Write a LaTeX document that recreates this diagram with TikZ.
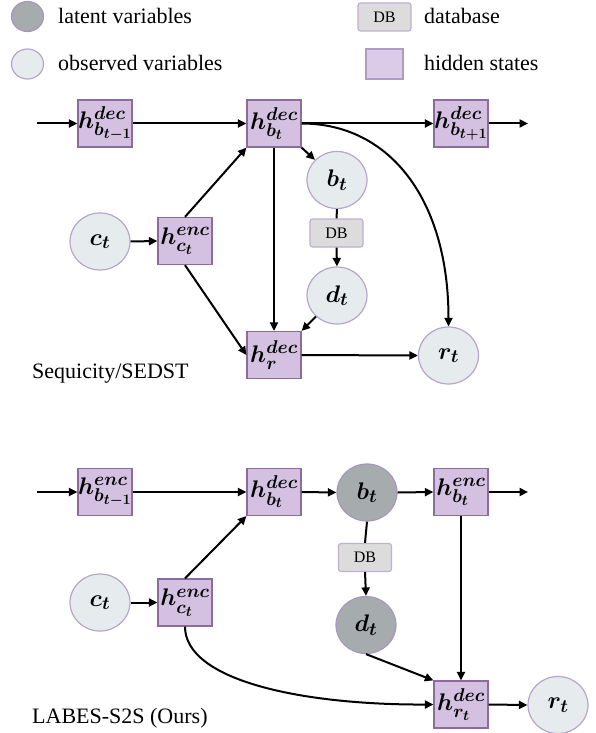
\documentclass[tikz,border=0pt]{standalone}
\usepackage{fix-cm}
\usepackage{fontspec}
\setmainfont{Liberation Serif}
\usetikzlibrary{arrows.meta,shapes.geometric}
\DeclareMathSizes{24}{24}{18.5}{14.5}
\definecolor{hidfill}{HTML}{D4C0E0}
\definecolor{hidborder}{HTML}{8C6C9E}
\definecolor{hidfilllg}{HTML}{DCCBE6}
\definecolor{hidborderlg}{HTML}{B09AC6}
\definecolor{obsfill}{HTML}{E6ECEE}
\definecolor{obsborder}{HTML}{B6A5CB}
\definecolor{latfill}{HTML}{A6ABAD}
\definecolor{latborder}{HTML}{A698BC}
\definecolor{dbfill}{HTML}{DCDCDC}
\definecolor{dbborder}{HTML}{BFAFD0}
\tikzset{
  hid/.style={rectangle, draw=hidborder, fill=hidfill, line width=1.2pt,
    minimum width=54pt, minimum height=47pt, inner sep=0pt,
    font=\fontsize{24}{28}\selectfont\boldmath},
  obs/.style={ellipse, draw=obsborder, fill=obsfill, line width=1.2pt,
    minimum width=60pt, minimum height=57pt, inner sep=0pt,
    font=\fontsize{24}{28}\selectfont\boldmath},
  lat/.style={ellipse, draw=latborder, fill=latfill, line width=1.2pt,
    minimum width=60pt, minimum height=57pt, inner sep=0pt,
    font=\fontsize{24}{28}\selectfont\boldmath},
  dbbox/.style={rectangle, rounded corners=2.5pt, draw=dbborder, fill=dbfill, line width=1.2pt,
    minimum width=53pt, minimum height=28pt, inner sep=0pt,
    font=\fontsize{16}{18}\selectfont},
  lbl/.style={anchor=base west, inner sep=0pt, font=\fontsize{22}{26}\selectfont},
  conn/.style={line width=2pt, -{Triangle[length=8.5pt,width=8pt]}},
  plainln/.style={line width=2pt},
}
\begin{document}
\begin{tikzpicture}[x=1pt,y=-1pt]
\useasboundingbox (0,0) rectangle (595,733);

% ---------- legend ----------
\node[lat, minimum width=32pt, minimum height=30pt] (lglat) at (27.5,16.5) {};
\node[lbl] (lglattxt) at (58,24) {latent variables};
\node[obs, minimum width=32pt, minimum height=30pt] (lgobs) at (27.5,64) {};
\node[lbl] (lgobstxt) at (58,71) {observed variables};
\node[dbbox] (lgdb) at (384.5,17) {DB};
\node[lbl] (lgdbtxt) at (424,24) {database};
\node[hid, draw=hidborderlg, fill=hidfilllg, minimum width=37pt, minimum height=30pt] (lghid) at (384.5,64) {};
\node[lbl] (lghidtxt) at (424,71) {hidden states};

% ---------- top diagram ----------
\coordinate (tin) at (37,123.5);
\coordinate (tout) at (528,123.5);
\node[hid] (thbm) at (105,123.5) {$h^{dec}_{b_{t-1}}$};
\node[hid] (thb) at (274,123.5) {$h^{dec}_{b_t}$};
\node[hid] (thbp) at (461,123.5) {$h^{dec}_{b_{t+1}}$};
\node[obs] (tbt) at (337,180) {$b_t$};
\node[dbbox] (tdb) at (336.5,233) {DB};
\node[obs] (tdt) at (337,295.5) {$d_t$};
\node[obs] (tct) at (100,241.5) {$c_t$};
\node[hid] (thc) at (185,241) {$h^{enc}_{c_t}$};
\node[hid] (thr) at (274,355) {$h^{dec}_{r}$};
\node[obs] (trt) at (448.5,355.5) {$r_t$};
\node[lbl] (ttitle) at (32,378) {Sequicity/SEDST};

\draw[conn] (tin) -- (thbm.west);
\draw[conn] (thbm.east) -- (thb.west);
\draw[conn] (thb.east) -- (thbp.west);
\draw[conn] (thbp.east) -- (tout);
\draw[conn] (thb.south east) -- (tbt);
\draw[plainln] (tbt.south) -- (tdb.north);
\draw[conn] (tdb.south) -- (tdt.north);
\draw[conn] (tdt) -- (thr.north east);
\draw[conn] (thb.south) -- (thr.north);
\draw[conn] (tct.east) -- (thc.west);
\draw[conn] (thc.north) -- (thb.south west);
\draw[conn] (thc.south) -- (thr.west);
\draw[conn] (thr.east) -- (trt.west);
\draw[conn] (thb.east) .. controls (390,123.5) and (448.5,200) .. (trt.north);

% ---------- bottom diagram ----------
\coordinate (bin) at (37,492);
\coordinate (bout) at (528,492);
\node[hid] (bhbm) at (105,492) {$h^{enc}_{b_{t-1}}$};
\node[hid] (bhb) at (274,492) {$h^{dec}_{b_t}$};
\node[lat] (bbt) at (367,492.5) {$b_t$};
\node[hid] (bhbe) at (461,492) {$h^{enc}_{b_t}$};
\node[dbbox] (bdb) at (365,557.5) {DB};
\node[lat] (bdt) at (366,625) {$d_t$};
\node[obs] (bct) at (100,602.5) {$c_t$};
\node[hid] (bhc) at (185,602.5) {$h^{enc}_{c_t}$};
\node[hid] (bhr) at (461,704.5) {$h^{dec}_{r_t}$};
\node[obs] (brt) at (558,705) {$r_t$};
\node[lbl] (btitle) at (32,723) {LABES-S2S (Ours)};

\draw[conn] (bin) -- (bhbm.west);
\draw[conn] (bhbm.east) -- (bhb.west);
\draw[conn] (bhb.east) -- (bbt.west);
\draw[conn] (bbt.east) -- (bhbe.west);
\draw[conn] (bhbe.east) -- (bout);
\draw[plainln] (bbt.south) -- (bdb.north);
\draw[conn] (bdb.south) -- (bdt.north);
\draw[conn] (bdt.south) -- (bhr.north west);
\draw[conn] (bhbe.south) -- (bhr.north);
\draw[conn] (bct.east) -- (bhc.west);
\draw[conn] (bhc.north) -- (bhb.south west);
\draw[conn] (bhc.south) .. controls (185,680) and (300,705) .. (bhr.west);
\draw[conn] (bhr.east) -- (brt.west);
\end{tikzpicture}
\end{document}
